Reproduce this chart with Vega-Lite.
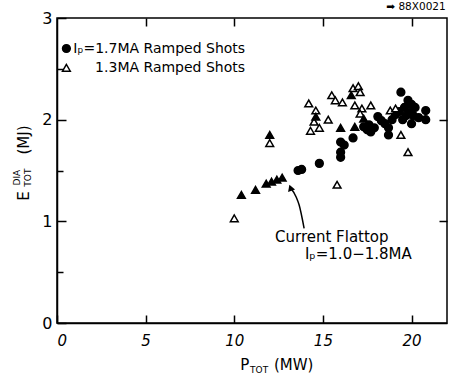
{
  "$schema": "https://vega.github.io/schema/vega-lite/v6.json",
  "width": 390,
  "height": 305,
  "autosize": {"type": "none"},
  "padding": {"left": 57, "top": 18, "right": 13, "bottom": 54},
  "background": "white",
  "config": {
    "view": {"stroke": "black", "strokeWidth": 1.5},
    "font": "DejaVu Sans",
    "axis": {"grid": false, "domainColor": "black", "domainWidth": 1.5, "tickColor": "black", "tickWidth": 1.5, "labelColor": "black", "labelFont": "DejaVu Sans", "labelFontSize": 15, "title": null}
  },
  "datasets": {
    "pts": [
      {"p": 13.6, "e": 1.50, "s": "a"}, {"p": 13.8, "e": 1.51, "s": "a"}, {"p": 14.8, "e": 1.57, "s": "a"},
      {"p": 16.0, "e": 1.78, "s": "a"}, {"p": 16.2, "e": 1.75, "s": "a"}, {"p": 16.0, "e": 1.68, "s": "a"},
      {"p": 16.0, "e": 1.63, "s": "a"}, {"p": 16.7, "e": 1.82, "s": "a"}, {"p": 17.3, "e": 1.93, "s": "a"},
      {"p": 17.5, "e": 1.90, "s": "a"}, {"p": 17.7, "e": 1.88, "s": "a"}, {"p": 17.6, "e": 1.95, "s": "a"},
      {"p": 17.9, "e": 1.92, "s": "a"}, {"p": 18.1, "e": 2.03, "s": "a"}, {"p": 18.3, "e": 1.99, "s": "a"},
      {"p": 18.5, "e": 1.96, "s": "a"}, {"p": 18.7, "e": 1.92, "s": "a"}, {"p": 18.7, "e": 1.85, "s": "a"},
      {"p": 18.9, "e": 2.00, "s": "a"}, {"p": 19.1, "e": 2.05, "s": "a"}, {"p": 19.3, "e": 2.08, "s": "a"},
      {"p": 19.4, "e": 2.27, "s": "a"}, {"p": 19.5, "e": 2.00, "s": "a"}, {"p": 19.6, "e": 2.12, "s": "a"},
      {"p": 19.8, "e": 2.19, "s": "a"}, {"p": 19.9, "e": 2.07, "s": "a"}, {"p": 20.0, "e": 1.96, "s": "a"},
      {"p": 20.1, "e": 2.04, "s": "a"}, {"p": 20.2, "e": 2.12, "s": "a"}, {"p": 20.4, "e": 2.02, "s": "a"},
      {"p": 20.8, "e": 2.09, "s": "a"}, {"p": 20.8, "e": 2.00, "s": "a"}, {"p": 19.7, "e": 2.04, "s": "a"},
      {"p": 20.0, "e": 2.15, "s": "a"},
      {"p": 10.0, "e": 1.03, "s": "b"}, {"p": 12.0, "e": 1.77, "s": "b"}, {"p": 14.2, "e": 2.16, "s": "b"},
      {"p": 14.6, "e": 2.09, "s": "b"}, {"p": 14.5, "e": 1.98, "s": "b"}, {"p": 14.3, "e": 1.89, "s": "b"},
      {"p": 14.8, "e": 1.92, "s": "b"}, {"p": 15.3, "e": 2.00, "s": "b"}, {"p": 15.5, "e": 2.24, "s": "b"},
      {"p": 15.7, "e": 2.19, "s": "b"}, {"p": 16.1, "e": 2.17, "s": "b"}, {"p": 16.7, "e": 2.31, "s": "b"},
      {"p": 17.0, "e": 2.33, "s": "b"}, {"p": 17.1, "e": 2.27, "s": "b"}, {"p": 16.8, "e": 2.14, "s": "b"},
      {"p": 17.2, "e": 2.11, "s": "b"}, {"p": 17.1, "e": 2.06, "s": "b"}, {"p": 17.7, "e": 2.14, "s": "b"},
      {"p": 18.8, "e": 2.09, "s": "b"}, {"p": 19.1, "e": 2.11, "s": "b"}, {"p": 19.4, "e": 1.85, "s": "b"},
      {"p": 19.8, "e": 1.68, "s": "b"}, {"p": 15.8, "e": 1.36, "s": "b"},
      {"p": 10.4, "e": 1.26, "s": "c"}, {"p": 11.2, "e": 1.31, "s": "c"}, {"p": 11.8, "e": 1.37, "s": "c"},
      {"p": 12.1, "e": 1.39, "s": "c"}, {"p": 12.4, "e": 1.41, "s": "c"}, {"p": 12.7, "e": 1.43, "s": "c"},
      {"p": 12.0, "e": 1.85, "s": "c"}, {"p": 14.6, "e": 2.03, "s": "c"}, {"p": 16.0, "e": 1.92, "s": "c"},
      {"p": 16.8, "e": 1.93, "s": "c"}, {"p": 16.6, "e": 2.24, "s": "c"}, {"p": 17.3, "e": 2.01, "s": "c"}
    ],
    "key": [
      {"p": 0.53, "e": 2.70, "s": "a", "t": "Iₚ=1.7MA Ramped Shots", "tp": 0.92},
      {"p": 0.53, "e": 2.51, "s": "b", "t": "1.3MA Ramped Shots", "tp": 2.15}
    ],
    "arrow": [
      {"p": 13.17, "e": 1.33}, {"p": 13.49, "e": 1.24}, {"p": 13.66, "e": 1.16}, {"p": 13.94, "e": 0.93}
    ],
    "tip": [{"p": 13.17, "e": 1.33}],
    "big": [
      {"p": 15.5, "e": 0.85, "t": "Current Flattop", "r": 0},
      {"p": 17.0, "e": 0.68, "t": "Iₚ=1.0−1.8MA", "r": 0},
      {"p": 10.59, "e": -0.41, "t": "P", "r": 0},
      {"p": 13.35, "e": -0.41, "t": "(MW)", "r": 0},
      {"p": -1.87, "e": 1.25, "t": "E", "r": 270},
      {"p": -1.87, "e": 1.80, "t": "(MJ)", "r": 270}
    ],
    "small": [
      {"p": 11.40, "e": -0.46, "t": "TOT", "r": 0},
      {"p": -1.62, "e": 1.43, "t": "TOT", "r": 270},
      {"p": -2.25, "e": 1.43, "t": "DIA", "r": 270}
    ],
    "tag": [
      {"p": 20.25, "e": 3.112, "t": "➡ 88X0021"}
    ]
  },
  "resolve": {"axis": {"x": "independent", "y": "independent"}},
  "layer": [
    {
      "data": {"name": "pts"},
      "mark": {"type": "point", "filled": true, "stroke": "black", "strokeWidth": 1.5, "opacity": 1, "size": 60},
      "encoding": {
        "x": {"field": "p", "type": "quantitative", "scale": {"domain": [0, 22], "nice": false},
          "axis": {"orient": "bottom", "values": [0, 5, 10, 15, 20], "format": "d", "tickSize": -8, "labelPadding": 18, "labelFontStyle": "italic",
            "labelAlign": {"condition": {"test": "datum.value === 0", "value": "left"}, "value": "center"}}},
        "y": {"field": "e", "type": "quantitative", "scale": {"domain": [0, 3], "nice": false},
          "axis": {"orient": "left", "values": [0, 0.5, 1, 1.5, 2, 2.5, 3], "labelExpr": "datum.value % 1 === 0 ? format(datum.value, 'd') : ''",
            "tickSize": {"condition": {"test": "datum.value % 1 === 0", "value": -9}, "value": -6}, "labelPadding": 14, "labelFontSize": 16}},
        "shape": {"field": "s", "type": "nominal", "scale": {"domain": ["a", "b", "c"], "range": ["circle", "triangle-up", "triangle-up"]}, "legend": null},
        "fill": {"field": "s", "type": "nominal", "scale": {"domain": ["a", "b", "c"], "range": ["black", "white", "black"]}, "legend": null}
      }
    },
    {
      "data": {"name": "key"},
      "mark": {"type": "point", "filled": true, "stroke": "black", "strokeWidth": 1.5, "opacity": 1, "size": 60},
      "encoding": {
        "x": {"field": "p", "type": "quantitative", "axis": null},
        "y": {"field": "e", "type": "quantitative", "axis": null},
        "shape": {"field": "s", "type": "nominal", "legend": null},
        "fill": {"field": "s", "type": "nominal", "legend": null}
      }
    },
    {
      "data": {"name": "key"},
      "mark": {"type": "text", "fontSize": 14, "color": "black", "align": "left", "baseline": "middle", "font": "DejaVu Sans"},
      "encoding": {
        "x": {"field": "tp", "type": "quantitative", "axis": null},
        "y": {"field": "e", "type": "quantitative", "axis": null},
        "text": {"field": "t"}
      }
    },
    {
      "data": {"name": "arrow"},
      "mark": {"type": "line", "color": "black", "strokeWidth": 1.5, "interpolate": "monotone"},
      "encoding": {
        "x": {"field": "p", "type": "quantitative", "axis": {"orient": "top", "values": [5, 10, 15, 20], "tickSize": -8, "labels": false, "domain": false}},
        "y": {"field": "e", "type": "quantitative", "axis": {"orient": "right", "values": [1, 2], "tickSize": -8, "labels": false, "domain": false}}
      }
    },
    {
      "data": {"name": "tip"},
      "mark": {"type": "point", "shape": "triangle-up", "filled": true, "color": "black", "size": 55, "angle": -20, "opacity": 1},
      "encoding": {
        "x": {"field": "p", "type": "quantitative", "axis": null},
        "y": {"field": "e", "type": "quantitative", "axis": null}
      }
    },
    {
      "data": {"name": "big"},
      "mark": {"type": "text", "fontSize": 15, "color": "black", "align": "center", "baseline": "middle", "font": "DejaVu Sans"},
      "encoding": {
        "x": {"field": "p", "type": "quantitative", "axis": null},
        "y": {"field": "e", "type": "quantitative", "axis": null},
        "text": {"field": "t"},
        "angle": {"field": "r", "type": "quantitative", "scale": null}
      }
    },
    {
      "data": {"name": "small"},
      "mark": {"type": "text", "fontSize": 9, "color": "black", "align": "center", "baseline": "middle", "font": "DejaVu Sans"},
      "encoding": {
        "x": {"field": "p", "type": "quantitative", "axis": null},
        "y": {"field": "e", "type": "quantitative", "axis": null},
        "text": {"field": "t"},
        "angle": {"field": "r", "type": "quantitative", "scale": null}
      }
    },
    {
      "data": {"name": "tag"},
      "mark": {"type": "text", "fontSize": 10.5, "color": "black", "align": "center", "baseline": "middle", "font": "DejaVu Sans"},
      "encoding": {
        "x": {"field": "p", "type": "quantitative", "axis": null},
        "y": {"field": "e", "type": "quantitative", "axis": null},
        "text": {"field": "t"}
      }
    }
  ]
}
